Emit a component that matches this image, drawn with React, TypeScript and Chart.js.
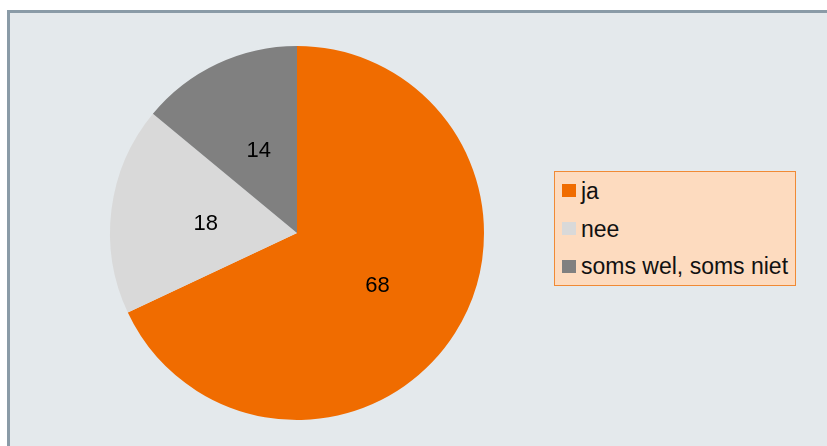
import React, { useEffect, useRef } from "react";
import { Chart, registerables } from "chart.js";

Chart.register(...registerables);

const categories = ["ja", "nee", "soms wel, soms niet"];
const values = [68, 18, 14];
const colors = ["#f06c00", "#d9d9d9", "#808080"];

const FONT = '"Liberation Sans", Arial, Helvetica, sans-serif';

const labelPlugin = {
  id: "sliceLabels",
  afterDatasetsDraw(chart: any) {
    const ctx = chart.ctx;
    const meta = chart.getDatasetMeta(0);
    ctx.save();
    ctx.font = `22px ${FONT}`;
    ctx.fillStyle = "#000000";
    ctx.textAlign = "center";
    ctx.textBaseline = "middle";
    meta.data.forEach((arc: any, i: number) => {
      const p = arc.tooltipPosition();
      ctx.fillText(String(values[i]), p.x + 1.5, p.y + 3);
    });
    ctx.restore();
  },
};

export default function App() {
  const ref = useRef<HTMLCanvasElement>(null);
  useEffect(() => {
    if (!ref.current) return;
    const chart = new Chart(ref.current, {
      type: "pie",
      data: {
        labels: categories,
        datasets: [
          {
            data: values,
            backgroundColor: colors,
            borderWidth: 0,
          },
        ],
      },
      options: {
        responsive: false,
        animation: false,
        layout: { padding: { left: 110, right: 343, top: 46, bottom: 26 } },
        plugins: {
          legend: { display: false },
          tooltip: { enabled: false },
        },
      },
      plugins: [labelPlugin],
    });
    return () => chart.destroy();
  }, []);

  return (
    <div
      style={{
        position: "fixed",
        left: 0,
        top: 0,
        width: 827,
        height: 446,
        background: "#ffffff",
        overflow: "hidden",
      }}
    >
      <div
        style={{
          position: "absolute",
          left: 7,
          top: 10,
          width: 900,
          height: 500,
          borderLeft: "3px solid #8a9ba7",
          borderTop: "3px solid #8a9ba7",
          background: "#e4e9ec",
        }}
      />
      <canvas
        ref={ref}
        width={827}
        height={446}
        style={{ position: "absolute", left: 0, top: 0, width: 827, height: 446 }}
      />
      <div
        style={{
          position: "absolute",
          left: 554,
          top: 171,
          width: 240,
          height: 113,
          border: "1px solid #f08a35",
          background: "#fddbbf",
        }}
      />
      {categories.map((c, i) => (
        <React.Fragment key={c}>
          <div
            style={{
              position: "absolute",
              left: 562,
              top: 184 + i * 38,
              width: 14,
              height: 13,
              background: colors[i],
            }}
          />
          <div
            style={{
              position: "absolute",
              left: 581,
              top: 177 + i * 37.5,
              height: 28,
              lineHeight: "28px",
              fontFamily: FONT,
              fontSize: 23,
              color: "#111111",
              whiteSpace: "nowrap",
            }}
          >
            {c}
          </div>
        </React.Fragment>
      ))}
    </div>
  );
}
